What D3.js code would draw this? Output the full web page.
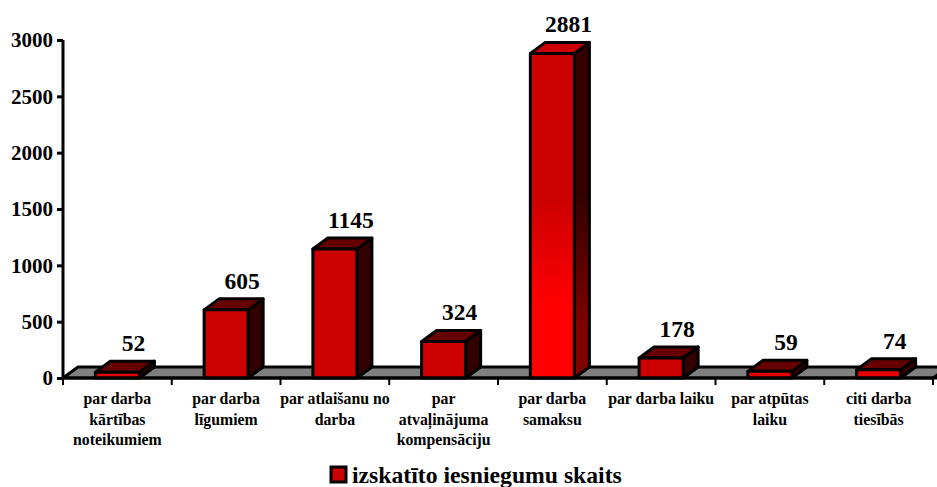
<!DOCTYPE html>
<html>
<head>
<meta charset="utf-8">
<script src="https://cdn.jsdelivr.net/npm/d3@7"></script>
<style>
  html, body { margin: 0; padding: 0; background: #fff; overflow: hidden; }
  text { font-family: "Liberation Serif", serif; font-weight: bold; fill: #000; }
</style>
</head>
<body>
<div id="chart"></div>
<script>
const categories = [
  ["par darba", "kārtības", "noteikumiem"],
  ["par darba", "līgumiem"],
  ["par atlaišanu no", "darba"],
  ["par", "atvaļinājuma", "kompensāciju"],
  ["par darba", "samaksu"],
  ["par darba laiku"],
  ["par atpūtas", "laiku"],
  ["citi darba", "tiesībās"]
];
const values = [52, 605, 1145, 324, 2881, 178, 59, 74];
const yTicks = [0, 500, 1000, 1500, 2000, 2500, 3000];
const legendLabel = "izskatīto iesniegumu skaits";

const width = 937, height = 487;
const left = 63, right = 933;
const depthX = 15, depthY = -11;
const strokeW = 3;

const svg = d3.select("#chart").append("svg")
  .attr("width", width)
  .attr("height", height);

const x = d3.scaleBand()
  .domain(d3.range(categories.length))
  .range([left, right])
  .paddingInner(0.595)
  .paddingOuter(0.2975);
const y = d3.scaleLinear().domain([0, 3000]).range([378, 40]);

// gradients for the tall bar
const defs = svg.append("defs");
function gradient(id, stops) {
  const g = defs.append("linearGradient")
    .attr("id", id)
    .attr("x1", 0).attr("y1", 0).attr("x2", 0).attr("y2", 1);
  stops.forEach(s => g.append("stop").attr("offset", s[0]).attr("stop-color", s[1]));
}
gradient("tallFront", [[0, "#cc0000"], [0.45, "#cc0000"], [0.78, "#ff0000"], [1, "#ff0000"]]);
gradient("tallSide", [[0, "#330000"], [0.45, "#330000"], [0.85, "#800000"], [1, "#800000"]]);

const line = d3.line();

// floor
svg.append("path")
  .attr("d", line([[left, y(0)], [left + depthX, y(0) + depthY], [right + depthX, y(0) + depthY], [right, y(0)]]) + "Z")
  .attr("fill", "#808080")
  .attr("stroke", "#000")
  .attr("stroke-width", strokeW)
  .attr("stroke-linejoin", "round");

// bars
const bars = svg.selectAll("g.bar")
  .data(values)
  .join("g")
  .attr("class", "bar")
  .attr("stroke", "#000")
  .attr("stroke-width", strokeW)
  .attr("stroke-linejoin", "round");

bars.append("path")
  .attr("d", (d, i) => {
    const r = x(i) + x.bandwidth();
    return line([[r, y(d)], [r + depthX, y(d) + depthY], [r + depthX, y(0) + depthY], [r, y(0)]]) + "Z";
  })
  .attr("fill", d => d > 2000 ? "url(#tallSide)" : "#330000");

bars.append("path")
  .attr("d", (d, i) => {
    const l = x(i), r = l + x.bandwidth();
    return line([[l, y(d)], [l + depthX, y(d) + depthY], [r + depthX, y(d) + depthY], [r, y(d)]]) + "Z";
  })
  .attr("fill", d => d > 2000 ? "#cc0000" : "#660000");

bars.append("rect")
  .attr("x", (d, i) => x(i))
  .attr("y", d => y(d))
  .attr("width", x.bandwidth())
  .attr("height", d => y(0) - y(d))
  .attr("fill", d => d > 2000 ? "url(#tallFront)" : d < 100 ? "#e60000" : "#cc0000");

// value labels
svg.selectAll("text.value")
  .data(values)
  .join("text")
  .attr("class", "value")
  .attr("x", (d, i) => x(i) + x.bandwidth() / 2 + 16)
  .attr("y", d => y(d) - 21)
  .attr("text-anchor", "middle")
  .attr("font-size", 23.5)
  .text(d => d);

// y axis
const yAxis = svg.append("g")
  .attr("transform", `translate(${left},0)`)
  .call(d3.axisLeft(y).tickValues(yTicks).tickSize(6).tickPadding(4).tickFormat(d3.format("d")));
yAxis.selectAll("path, line").attr("stroke", "#000").attr("stroke-width", strokeW);
yAxis.select(".domain").attr("d", `M0,${y(3000)}V${y(0)}`);
yAxis.selectAll("text").attr("font-size", 21);

// x axis line and ticks at the band edges
const step = x.step();
svg.append("line")
  .attr("x1", left).attr("x2", width)
  .attr("y1", y(0)).attr("y2", y(0))
  .attr("stroke", "#000").attr("stroke-width", strokeW);
svg.selectAll("line.xtick")
  .data(d3.range(categories.length + 1))
  .join("line")
  .attr("class", "xtick")
  .attr("x1", i => left + i * step)
  .attr("x2", i => left + i * step)
  .attr("y1", y(0))
  .attr("y2", y(0) + 7)
  .attr("stroke", "#000")
  .attr("stroke-width", 2);

// category labels
svg.selectAll("text.cat")
  .data(categories)
  .join("text")
  .attr("class", "cat")
  .attr("text-anchor", "middle")
  .attr("font-size", 15.8)
  .attr("transform", (d, i) => `translate(${x(i) + x.bandwidth() / 2},404)`)
  .selectAll("tspan")
  .data(d => d)
  .join("tspan")
  .attr("x", 0)
  .attr("y", (d, i) => i * 20.7)
  .text(d => d);

// legend
svg.append("rect")
  .attr("x", 331).attr("y", 467)
  .attr("width", 15).attr("height", 15)
  .attr("fill", "#cc0000")
  .attr("stroke", "#000")
  .attr("stroke-width", strokeW);
svg.append("text")
  .attr("x", 352).attr("y", 483)
  .attr("font-size", 23.7)
  .text(legendLabel);
</script>
</body>
</html>
